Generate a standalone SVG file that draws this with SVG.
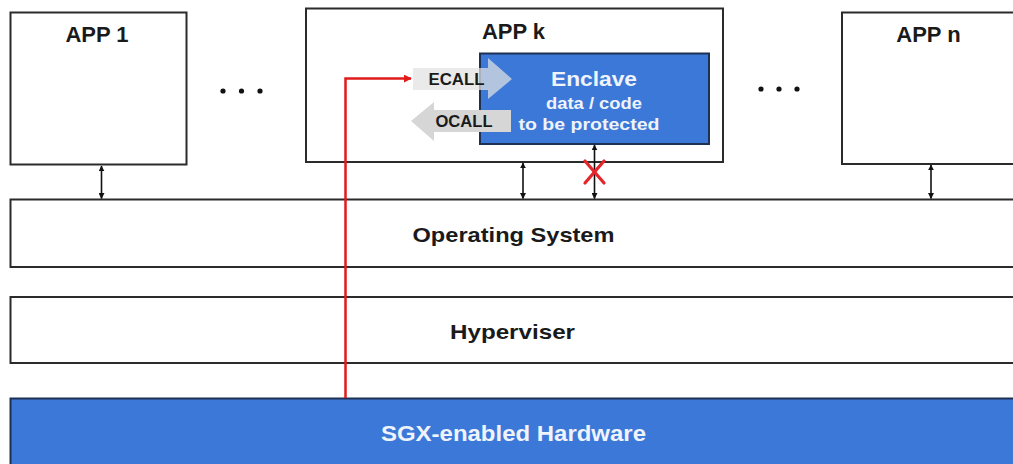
<svg xmlns="http://www.w3.org/2000/svg" width="1013" height="464" viewBox="0 0 1013 464">
  <style>
    .box { fill: #ffffff; stroke: #2b2b2b; stroke-width: 2; }
    .blue { fill: #3c78d8; stroke: #1e3152; stroke-width: 2; }
    .lbl { font-family: "Liberation Sans", Arial, sans-serif; font-weight: bold; fill: #1a1a1a; text-anchor: middle; }
    .wlbl { font-family: "Liberation Sans", Arial, sans-serif; font-weight: bold; fill: #eef3fc; text-anchor: middle; }
    .link { stroke: #111111; stroke-width: 1.6; fill: none; marker-start: url(#tipStart); marker-end: url(#tipEnd); }
    .dot { fill: #111111; }
  </style>
  <defs>
    <marker id="tipEnd" viewBox="0 0 10 10" refX="9" refY="5" markerWidth="6" markerHeight="6" orient="auto" markerUnits="userSpaceOnUse">
      <path d="M0,0 L10,5 L0,10 z" fill="#111111"/>
    </marker>
    <marker id="tipStart" viewBox="0 0 10 10" refX="1" refY="5" markerWidth="6" markerHeight="6" orient="auto" markerUnits="userSpaceOnUse">
      <path d="M10,0 L0,5 L10,10 z" fill="#111111"/>
    </marker>
    <marker id="redTip" viewBox="0 0 10 10" refX="9" refY="5" markerWidth="8" markerHeight="8" orient="auto" markerUnits="userSpaceOnUse">
      <path d="M0,0 L10,5 L0,10 z" fill="#e01b1b"/>
    </marker>
  </defs>

  <!-- application boxes -->
  <g id="app1">
    <rect class="box" x="10.5" y="12.5" width="176" height="152"/>
    <text class="lbl" x="97" y="41.5" font-size="22">APP 1</text>
  </g>
  <g id="appk">
    <rect class="box" x="306" y="8.5" width="417" height="153.5"/>
    <text class="lbl" x="513.5" y="38.5" font-size="22">APP k</text>
  </g>
  <g id="appn">
    <rect class="box" x="842" y="12.5" width="180" height="151.5"/>
    <text class="lbl" x="928.5" y="41.5" font-size="22">APP n</text>
  </g>

  <!-- ellipsis between applications -->
  <g id="dots-left">
    <circle class="dot" cx="223" cy="91" r="2.6"/>
    <circle class="dot" cx="241.5" cy="91" r="2.6"/>
    <circle class="dot" cx="260" cy="91" r="2.6"/>
  </g>
  <g id="dots-right">
    <circle class="dot" cx="761" cy="89" r="2.6"/>
    <circle class="dot" cx="779" cy="89" r="2.6"/>
    <circle class="dot" cx="797" cy="89" r="2.6"/>
  </g>

  <!-- enclave inside APP k -->
  <g id="enclave">
    <rect class="blue" x="480" y="53.5" width="229" height="90.5"/>
    <text class="wlbl" x="594" y="86" font-size="20" textLength="86" lengthAdjust="spacingAndGlyphs">Enclave</text>
    <text class="wlbl" x="594" y="108.5" font-size="16" textLength="96" lengthAdjust="spacingAndGlyphs">data / code</text>
    <text class="wlbl" x="589" y="130" font-size="17" textLength="141" lengthAdjust="spacingAndGlyphs">to be protected</text>
  </g>

  <!-- call arrows -->
  <g id="ecall">
    <path d="M413,68 H488 V58 L512,79 L488,99 V90 H413 z" fill="#e2e2e2" fill-opacity="0.72"/>
    <text class="lbl" x="456.5" y="85" font-size="16" textLength="56" lengthAdjust="spacingAndGlyphs">ECALL</text>
  </g>
  <g id="ocall">
    <path d="M411,121 L434,102 V110 H511 V132 H434 V141 z" fill="#d6d6d6"/>
    <text class="lbl" x="464" y="126.5" font-size="16" textLength="57" lengthAdjust="spacingAndGlyphs">OCALL</text>
  </g>

  <!-- system layers -->
  <g id="os">
    <rect class="box" x="10.5" y="199.5" width="1012" height="67.5"/>
    <text class="lbl" x="513.5" y="242" font-size="21" textLength="202" lengthAdjust="spacingAndGlyphs">Operating System</text>
  </g>
  <g id="hypervisor">
    <rect class="box" x="10.5" y="297" width="1012" height="66"/>
    <text class="lbl" x="512.5" y="338.5" font-size="21" textLength="125" lengthAdjust="spacingAndGlyphs">Hyperviser</text>
  </g>
  <g id="hardware">
    <rect class="blue" x="10.5" y="398.5" width="1012" height="72"/>
    <text class="wlbl" x="513.5" y="441" font-size="22" textLength="265" lengthAdjust="spacingAndGlyphs">SGX-enabled Hardware</text>
  </g>

  <!-- connectors -->
  <g id="connectors">
    <line class="link" x1="101.5" y1="166" x2="101.5" y2="198.5"/>
    <line class="link" x1="523" y1="163" x2="523" y2="198.5"/>
    <line class="link" x1="594.5" y1="145" x2="594.5" y2="198.5"/>
    <line class="link" x1="931" y1="165" x2="931" y2="198.5"/>
    <path d="M345.5,398 V78.5 H411" stroke="#e01b1b" stroke-width="2.5" fill="none" marker-end="url(#redTip)"/>
    <!-- blocked path from the enclave to the OS -->
    <g id="blocked" stroke="#e5252a" stroke-width="3.2" stroke-linecap="round">
      <line x1="585" y1="161" x2="604" y2="183"/>
      <line x1="604" y1="161" x2="585" y2="183"/>
    </g>
  </g>
</svg>
